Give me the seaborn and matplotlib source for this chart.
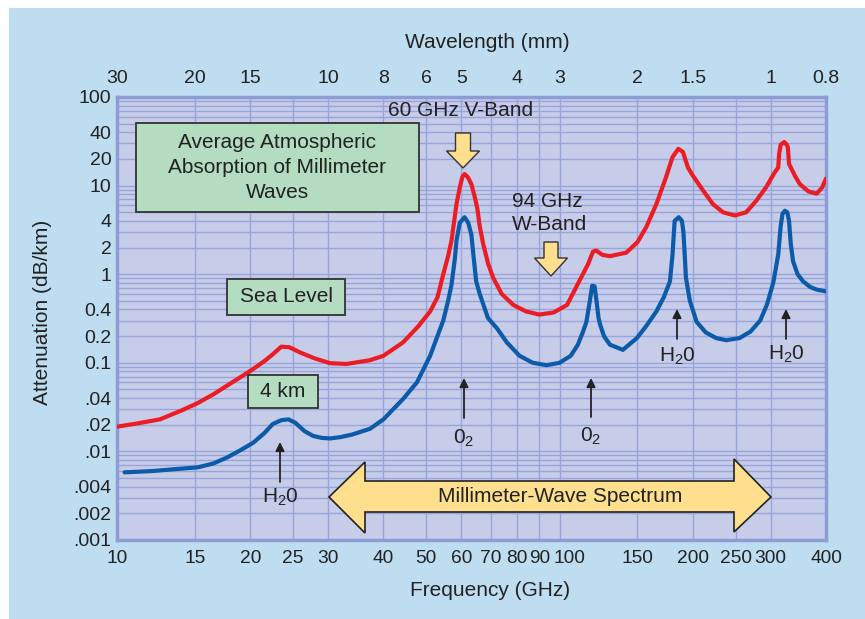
import numpy as np
import pandas as pd
import matplotlib
matplotlib.use("Agg")
import matplotlib.pyplot as plt
import matplotlib.transforms as mtrans
import seaborn as sns
from matplotlib.patches import Rectangle, Polygon
from matplotlib.ticker import FixedLocator, NullLocator

# ---------------- data ----------------
sea_freq = [10, 11, 12.5, 14, 15.2, 16.5, 18, 19.2, 20.3, 21.5, 22.5, 23.5, 24.5, 26, 28,
            30.3, 33, 37.3, 40, 44.3, 48, 51, 53, 54.6, 56, 57, 58.5, 59.5, 60.3, 61, 62,
            63.2, 64.3, 65.2, 66, 67.2, 69, 70.8, 74, 78.6, 84, 90, 97, 104, 111, 116, 119,
            121, 125, 130, 141.5, 150, 157, 165.5, 174, 180, 185.5, 190, 195, 200, 211, 222,
            234, 249, 264, 278, 293, 306, 312, 313.5, 316, 322, 326, 328, 330, 340, 349, 365,
            381, 392, 400]
sea_att = [0.019, 0.0205, 0.023, 0.029, 0.035, 0.044, 0.058, 0.071, 0.085, 0.104, 0.125,
           0.152, 0.15, 0.13, 0.112, 0.099, 0.097, 0.107, 0.12, 0.17, 0.26, 0.38, 0.55, 1.0,
           1.6, 2.4, 6.2, 9.5, 12.5, 13.5, 12.5, 10.4, 7.5, 5.5, 3.5, 2.2, 1.3, 0.91, 0.6,
           0.45, 0.38, 0.35, 0.37, 0.45, 0.85, 1.3, 1.8, 1.85, 1.65, 1.6, 1.75, 2.3, 3.4, 6.2,
           12.4, 21, 26, 24, 16, 13, 8.8, 6.2, 5.0, 4.6, 5.0, 6.7, 9.6, 14, 16, 23, 29, 31,
           29, 27, 17.6, 13, 10.4, 8.6, 8.1, 9.5, 12]

km4_freq = [10.4, 12, 13.5, 15.2, 16.5, 17.7, 19, 20.3, 21.5, 22.5, 23.5, 24.4, 25.3, 26.5,
            27.7, 29, 30.3, 32, 34, 37.3, 40, 44.3, 47.6, 51, 54.6, 56, 57, 58, 58.5, 59.5,
            61, 62.2, 63.2, 64, 64.8, 66, 68.9, 72.2, 76, 81.2, 87, 93.4, 100, 106, 110, 113,
            115, 117, 118.5, 120, 121.5, 122.5, 123.5, 126, 130, 139, 149.5, 157, 165.5, 172,
            177.6, 180, 182, 186, 189, 190.5, 192, 193, 197, 204, 214, 226, 238, 255, 270, 284,
            294, 304, 312, 316, 319, 323, 327, 330, 333, 337, 345, 355, 368, 381, 400]
km4_att = [0.0058, 0.006, 0.0063, 0.0066, 0.0073, 0.0085, 0.0103, 0.0125, 0.016, 0.0204,
           0.0225, 0.023, 0.021, 0.017, 0.015, 0.0142, 0.014, 0.0145, 0.0155, 0.018, 0.023,
           0.039, 0.06, 0.12, 0.3, 0.5, 0.76, 1.5, 2.4, 3.8, 4.4, 3.8, 2.8, 1.5, 0.83, 0.6,
           0.32, 0.245, 0.17, 0.12, 0.1, 0.094, 0.1, 0.12, 0.16, 0.225, 0.29, 0.49, 0.74, 0.73,
           0.45, 0.32, 0.27, 0.2, 0.16, 0.14, 0.19, 0.26, 0.38, 0.55, 0.83, 1.67, 4.0, 4.4, 4.0,
           3.0, 1.5, 0.91, 0.5, 0.29, 0.22, 0.19, 0.18, 0.19, 0.225, 0.3, 0.45, 0.8, 1.67, 3.5,
           4.8, 5.2, 5.0, 4.0, 2.2, 1.4, 1.0, 0.83, 0.72, 0.67, 0.64]

freq_ticks = [10, 15, 20, 25, 30, 40, 50, 60, 70, 80, 90, 100, 150, 200, 250, 300, 400]
freq_labels = ['10', '15', '20', '25', '30', '40', '50', '60', '70', '80', '90', '100',
               '150', '200', '250', '300', '400']
wl_tick_pos = [10, 15, 20, 30, 40, 50, 60, 80, 100, 150, 200, 300, 400]
wl_tick_labels = ['30', '20', '15', '10', '8', '6', '5', '4', '3', '2', '1.5', '1', '0.8']
att_ticks = [100, 40, 20, 10, 4, 2, 1, 0.4, 0.2, 0.1, 0.04, 0.02, 0.01, 0.004, 0.002, 0.001]
att_labels = ['100', '40', '20', '10', '4', '2', '1', '0.4', '0.2', '0.1', '.04', '.02',
              '.01', '.004', '.002', '.001']

# ---------------- style ----------------
sns.set_theme(style="white")
plt.rcParams['font.family'] = ['Liberation Sans', 'DejaVu Sans']
plt.rcParams['mathtext.fontset'] = 'custom'
plt.rcParams['mathtext.rm'] = 'Liberation Sans'
plt.rcParams['mathtext.it'] = 'Liberation Sans'
plt.rcParams['text.color'] = '#222222'

W, H = 865, 619
L, R, T, B = 117, 826, 97, 540

def fx(px):
    return px / W

def fy(py):
    return 1 - py / H

def ap(px, py):
    return ((px - L) / (R - L), (B - py) / (B - T))

fig = plt.figure(figsize=(W / 100, H / 100), dpi=100, facecolor='white')
fig.patches.append(Rectangle((fx(9), 0), 1, fy(8), transform=fig.transFigure,
                             facecolor='#BFDDF1', edgecolor='none', zorder=-10))

ax = fig.add_axes([fx(L), fy(B), (R - L) / W, (B - T) / H])
ax.set_facecolor('#C7CCE8')

df = pd.concat([
    pd.DataFrame({'freq': sea_freq, 'att': sea_att, 'alt': 'Sea Level'}),
    pd.DataFrame({'freq': km4_freq, 'att': km4_att, 'alt': '4 km'}),
])
sns.lineplot(data=df, x='freq', y='att', hue='alt',
             palette={'Sea Level': '#EC1C24', '4 km': '#0B5BA8'},
             linewidth=3.0, legend=False, ax=ax, sort=False, estimator=None,
             solid_capstyle='round', solid_joinstyle='round', zorder=5)

ax.set_xscale('log')
ax.set_yscale('log')
ax.set_xlim(10, 400)
ax.set_ylim(0.001, 100)

ax.xaxis.set_major_locator(FixedLocator(freq_ticks))
ax.set_xticklabels(freq_labels)
ax.xaxis.set_minor_locator(NullLocator())

minor_y = [m * 10.0 ** e for e in range(-3, 2) for m in range(1, 10)]
minor_y = [v for v in minor_y if all(abs(v - t) / t > 1e-6 for t in att_ticks)]
ax.yaxis.set_major_locator(FixedLocator(att_ticks))
ax.set_yticklabels(att_labels)
ax.yaxis.set_minor_locator(FixedLocator(minor_y))

ax.grid(True, which='major', axis='x', color='#97A5DA', linewidth=1.0)
ax.grid(True, which='both', axis='y', color='#97A5DA', linewidth=1.0)
ax.set_axisbelow(True)
ax.tick_params(axis='both', which='both', length=0, labelsize=14, colors='#222222')
ax.tick_params(axis='x', pad=7, labelsize=13.8)
ax.tick_params(axis='y', pad=4)
for s in ax.spines.values():
    s.set_color('#8E9CD6')
    s.set_linewidth(2.5)
ax.set_xlabel('')
ax.set_ylabel('')

# nudge the crowded "100" label to the right, as in the original
shift = mtrans.ScaledTranslation(0.10, 0, fig.dpi_scale_trans)
for tk in ax.xaxis.get_major_ticks():
    if tk.label1.get_text() == '100':
        tk.label1.set_transform(tk.label1.get_transform() + shift)

ax2 = ax.twiny()
ax2.set_xscale('log')
ax2.set_xlim(10, 400)
ax2.xaxis.set_major_locator(FixedLocator(wl_tick_pos))
ax2.set_xticklabels(wl_tick_labels)
ax2.xaxis.set_minor_locator(NullLocator())
ax2.tick_params(axis='x', length=0, labelsize=14, pad=7, colors='#222222')
for s in ax2.spines.values():
    s.set_visible(False)

# axis titles
fig.text(fx(487), fy(43), 'Wavelength (mm)', ha='center', va='center', fontsize=15)
fig.text(fx(490), fy(590), 'Frequency (GHz)', ha='center', va='center', fontsize=15)
fig.text(fx(43), fy(312), 'Attenuation (dB/km)', ha='center', va='center', fontsize=15,
         rotation=90)

# green boxes
def gbox(x0, y0, x1, y1, text, ls=1.2):
    a0 = ap(x0, y1)
    a1 = ap(x1, y0)
    ax.add_patch(Rectangle(a0, a1[0] - a0[0], a1[1] - a0[1], transform=ax.transAxes,
                           facecolor='#B3DCC1', edgecolor='#333333', linewidth=1.3,
                           zorder=6))
    c = ap((x0 + x1) / 2, (y0 + y1) / 2)
    ax.text(c[0], c[1], text, transform=ax.transAxes, ha='center', va='center',
            fontsize=15, zorder=7, linespacing=ls)

gbox(136, 123, 419, 212, 'Average Atmospheric\nAbsorption of Millimeter\nWaves', 1.38)
gbox(227, 279, 345, 315, 'Sea Level')
gbox(248, 375, 318, 408, '4 km')

# band labels
c = ap(461, 111)
ax.text(c[0], c[1], '60 GHz V-Band', transform=ax.transAxes, ha='center', va='center',
        fontsize=15, zorder=7)
c = ap(512, 213)
ax.text(c[0], c[1], '94 GHz\nW-Band', transform=ax.transAxes, ha='left', va='center',
        fontsize=15, zorder=7, linespacing=1.3)

# yellow down arrows
def down_arrow(xc, ytop, yhead, ytip, shaft_w, head_w):
    pts = [(xc - shaft_w / 2, ytop), (xc + shaft_w / 2, ytop), (xc + shaft_w / 2, yhead),
           (xc + head_w / 2, yhead), (xc, ytip), (xc - head_w / 2, yhead),
           (xc - shaft_w / 2, yhead)]
    ax.add_patch(Polygon([ap(*p) for p in pts], closed=True, transform=ax.transAxes,
                         facecolor='#FDDF8E', edgecolor='#333333', linewidth=1.0,
                         zorder=7))

down_arrow(463, 133, 151, 168, 15, 33)
down_arrow(551, 242, 258, 276, 14, 33)

# big double arrow
yc = 497
pts = [(329, yc), (365, 462), (365, 481), (734, 481), (734, 459), (771, yc), (734, 532),
       (734, 512), (365, 512), (365, 533)]
ax.add_patch(Polygon([ap(*p) for p in pts], closed=True, transform=ax.transAxes,
                     facecolor='#FDDF8E', edgecolor='#222222', linewidth=1.2, zorder=7))
c = ap(560, yc)
ax.text(c[0], c[1], 'Millimeter-Wave Spectrum', transform=ax.transAxes, ha='center',
        va='center', fontsize=15, zorder=8)

# molecule markers
def marker(xc, y_tail, y_tip, label, y_label):
    ax.annotate('', xy=ap(xc, y_tip), xytext=ap(xc, y_tail), xycoords='axes fraction',
                textcoords='axes fraction',
                arrowprops=dict(arrowstyle='-|>', color='#222222', lw=1.3,
                                mutation_scale=13, shrinkA=0, shrinkB=0), zorder=8)
    c = ap(xc, y_label)
    ax.text(c[0], c[1], label, transform=ax.transAxes, ha='center', va='center',
            fontsize=15, zorder=8)

marker(280, 482, 442, r'$\mathregular{H_20}$', 497)
marker(464, 418, 378, r'$\mathregular{0_2}$', 438)
marker(591, 417, 378, r'$\mathregular{0_2}$', 436)
marker(677, 339, 309, r'$\mathregular{H_20}$', 356)
marker(786, 339, 309, r'$\mathregular{H_20}$', 354)

fig.savefig('out.png', dpi=100, facecolor=fig.get_facecolor())
